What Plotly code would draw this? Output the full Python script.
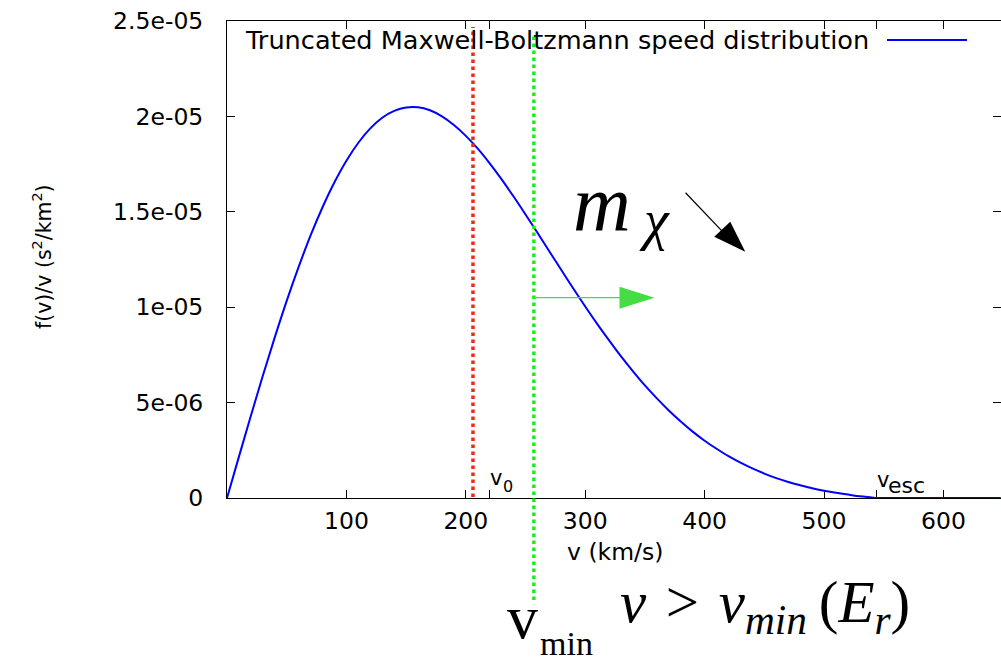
import plotly.graph_objects as go

# ---------------- data ----------------
speed_kms = [0, 10, 20, 30, 40, 50, 60, 70, 80, 90, 100, 110, 120, 130, 140, 150,
             160, 170, 180, 190, 200, 210, 220, 230, 240, 250, 260, 270, 280, 290,
             300, 310, 320, 330, 340, 350, 360, 370, 380, 390, 400, 410, 420, 430,
             440, 450, 460, 470, 480, 490, 500, 510, 520, 530, 540, 544, 560, 600, 648]
f_over_v_1e5 = [0.000, 0.217, 0.431, 0.641, 0.842, 1.033, 1.211, 1.376, 1.524, 1.655,
                1.768, 1.862, 1.937, 1.993, 2.029, 2.047, 2.048, 2.032, 2.000, 1.955,
                1.898, 1.831, 1.754, 1.670, 1.580, 1.486, 1.390, 1.292, 1.195, 1.098,
                1.004, 0.913, 0.826, 0.742, 0.664, 0.590, 0.522, 0.459, 0.401, 0.348,
                0.300, 0.258, 0.219, 0.185, 0.155, 0.128, 0.104, 0.084, 0.067, 0.051,
                0.038, 0.027, 0.018, 0.009, 0.003, 0.000, 0.000, 0.000, 0.000]
series_name = "Truncated Maxwell-Boltzmann speed distribution"

x_tick_vals = [100, 200, 300, 400, 500, 600]
x_tick_text = ["100", "200", "300", "400", "500", "600"]
y_tick_vals = [0, 5e-6, 1e-5, 1.5e-5, 2e-5, 2.5e-5]
y_tick_text = ["0", "5e-06", "1e-05", "1.5e-05", "2e-05", "2.5e-05"]

v0_kms = 220          # tick marked v0
vesc_kms = 544        # tick marked v_esc
v_red_kms = 206       # red dotted marker
v_min_kms = 257       # green dotted marker (v_min)
green_arrow_y = 1.05e-5
green_arrow_tip_kms = 358
black_arrow_start = (384, 1.60e-5)
black_arrow_tip = (434, 1.29e-5)

x_range = [0, 648.2]
y_range = [0, 2.5e-5]

# ---------------- layout geometry ----------------
W, H = 1001, 661
L, R, T, B = 227, 0, 21, 163
PW, PH = W - L - R, H - T - B


def px(x):
    return (x - L) / PW


def py(y):
    return (H - B - y) / PH


SANS = "DejaVu Sans"
SERIF = "Liberation Serif"
BLUE = "#0000ff"
RED = "#ee2a12"
GREEN = "#19ee19"
GREEN_ARROW = "#44dd44"

fig = go.Figure()
fig.add_trace(go.Scatter(
    x=speed_kms, y=[v * 1e-5 for v in f_over_v_1e5], mode="lines",
    name=series_name, showlegend=False,
    line=dict(color=BLUE, width=2, shape="spline", smoothing=1),
))

shapes = [
    # red dotted marker
    dict(type="line", xref="x", yref="paper", x0=v_red_kms, x1=v_red_kms,
         y0=py(497), y1=py(27), line=dict(color=RED, width=3.5, dash="dot")),
    # green dotted v_min marker (extends below the axis)
    dict(type="line", xref="x", yref="paper", x0=v_min_kms, x1=v_min_kms,
         y0=py(600), y1=py(36), line=dict(color=GREEN, width=3.5, dash="dot")),
    # green arrow shaft + head
    dict(type="line", xref="x", yref="y", x0=v_min_kms, x1=green_arrow_tip_kms - 20,
         y0=green_arrow_y, y1=green_arrow_y, line=dict(color=GREEN_ARROW, width=1.2)),
    dict(type="path", xref="x", yref="y", xsizemode="pixel", ysizemode="pixel",
         xanchor=green_arrow_tip_kms, yanchor=green_arrow_y,
         path="M0,0 L-35,11 L-35,-11 Z", fillcolor=GREEN_ARROW, line=dict(width=0)),
    # black arrow shaft + head
    dict(type="line", xref="x", yref="y", x0=black_arrow_start[0], x1=black_arrow_tip[0] - 12,
         y0=black_arrow_start[1], y1=black_arrow_tip[1] + 0.06e-5,
         line=dict(color="black", width=1.2)),
    dict(type="path", xref="x", yref="y", xsizemode="pixel", ysizemode="pixel",
         xanchor=black_arrow_tip[0], yanchor=black_arrow_tip[1],
         path="M0,0 L-15,30 L-31,15 Z", fillcolor="black", line=dict(width=0)),
    # legend key line
    dict(type="line", xref="paper", yref="paper", x0=px(887), x1=px(967),
         y0=py(40), y1=py(40), line=dict(color=BLUE, width=2)),
]


def label(text, xpix, ypix, size, family=SANS, xanchor="left", angle=0):
    return dict(text=text, xref="paper", yref="paper", x=px(xpix), y=py(ypix),
                xanchor=xanchor, yanchor="middle", showarrow=False, borderpad=0,
                textangle=angle, font=dict(family=family, size=size, color="black"))


def base_center(baseline, size, asc, desc):
    return baseline - (asc - desc) / 2 * size


annotations = [
    label(series_name, 244, 40, 25.6),
    label("f(v)/v (s<sup>2</sup>/km<sup>2</sup>)", 42, 257, 20.5, xanchor="center", angle=-90),
    label("v (km/s)", 615, 552, 23.5, xanchor="center"),
    # v0 and v_esc tick labels
    label("v", 489, base_center(485, 21, 0.928, 0.236), 21),
    label("0", 502, base_center(492, 16, 0.928, 0.236), 16),
    label("v", 876, base_center(487, 21, 0.928, 0.236), 21),
    label("esc", 887, base_center(493, 22, 0.928, 0.236), 22),
    # m_chi
    label("<i>m</i>", 572, base_center(230, 80, 0.891, 0.216), 80, family=SERIF),
    label("<i>χ</i>", 638, base_center(239, 56, 0.891, 0.216), 56, family=SERIF),
    # v_min below the axis
    label("v", 506, base_center(638, 62, 0.891, 0.216), 62, family=SERIF),
    label("min", 539, base_center(655, 34, 0.891, 0.216), 34, family=SERIF),
    # v > v_min(E_r)
    label("<i>v</i>\u2004&gt;\u2004<i>v</i><sub><i>min</i></sub>\u2009(<i>E</i><sub><i>r</i></sub>)",
          619, base_center(622, 59, 0.891, 0.216) + 4, 59, family=SERIF),
]

axis_common = dict(showgrid=False, zeroline=False, showline=True, linecolor="black",
                   linewidth=1, ticks="inside", ticklen=8, tickcolor="black",
                   mirror="ticks", tickfont=dict(family=SANS, size=23.5, color="black"))

fig.update_layout(
    width=W, height=H,
    margin=dict(l=L, r=R, t=T, b=B, pad=0),
    paper_bgcolor="white", plot_bgcolor="white",
    font=dict(family=SANS, color="black"),
    showlegend=False,
    xaxis=dict(range=x_range, tickmode="array",
               tickvals=x_tick_vals + [v0_kms, vesc_kms],
               ticktext=x_tick_text + ["", ""],
               ticklabelstandoff=2, layer="below traces", **axis_common),
    yaxis=dict(range=y_range, tickmode="array", tickvals=y_tick_vals,
               ticktext=y_tick_text, ticklabelstandoff=18, **axis_common),
    shapes=shapes,
    annotations=annotations,
)

fig.write_html("out.html")
